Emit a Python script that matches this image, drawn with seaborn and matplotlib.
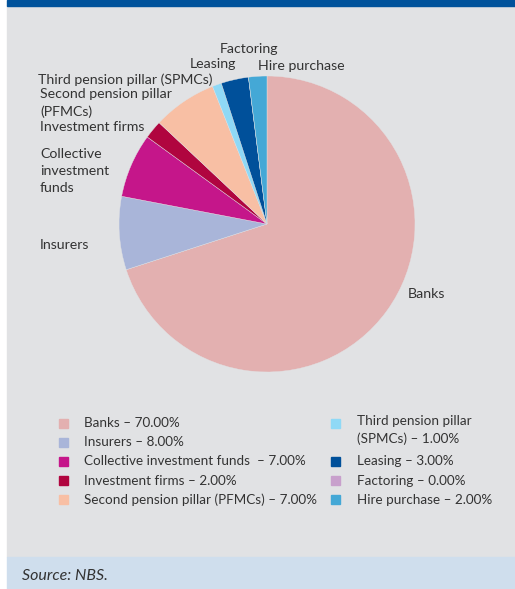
import matplotlib
matplotlib.use("Agg")
import matplotlib.pyplot as plt
from matplotlib.patches import Rectangle
import seaborn as sns

sns.set_theme(style="white")
plt.rcParams['font.family'] = ['Lato', 'DejaVu Sans']

# Data
sectors = ["Banks", "Insurers", "Collective investment funds", "Investment firms",
           "Second pension pillar (PFMCs)", "Third pension pillar (SPMCs)",
           "Leasing", "Factoring", "Hire purchase"]
shares = [70.0, 8.0, 7.0, 2.0, 7.0, 1.0, 3.0, 0.0, 2.0]
colors = ["#e3b0b0", "#a9b5d9", "#c5168a", "#b0053f", "#f8bfa4",
          "#8fd9f6", "#00509a", "#c8a0cc", "#44a8d6"]
legend_labels = ["Banks – 70.00%", "Insurers – 8.00%",
                 "Collective investment funds  – 7.00%", "Investment firms – 2.00%",
                 "Second pension pillar (PFMCs) – 7.00%",
                 "Third pension pillar\n(SPMCs) – 1.00%", "Leasing – 3.00%",
                 "Factoring – 0.00%", "Hire purchase – 2.00%"]

W, H = 515, 589
fig = plt.figure(figsize=(W / 100, H / 100), dpi=100)
fig.patch.set_facecolor("white")

def px(x, y):
    return x / W, 1 - y / H

# background panels
fig.add_artist(Rectangle(px(7, 557), (W - 7) / W, 552 / H, transform=fig.transFigure,
                         color="#e1e2e4", zorder=0))
fig.add_artist(Rectangle(px(7, 589), (W - 7) / W, 32 / H, transform=fig.transFigure,
                         color="#cfdeed", zorder=0))
fig.add_artist(Rectangle(px(7, 6), (W - 7) / W, 6 / H, transform=fig.transFigure,
                         color="#00529b", zorder=0))

# pie
cx, cy, r = 267, 224, 148
ax = fig.add_axes([(cx - r) / W, (H - cy - r) / H, 2 * r / W, 2 * r / H])
ax.pie(shares, colors=colors, startangle=90, counterclock=False, radius=1,
       wedgeprops=dict(linewidth=0.3, edgecolor="#e1e2e4"))
ax.set_xlim(-1, 1)
ax.set_ylim(-1, 1)
ax.set_axis_off()

tc = "#333333"
fs = 10.2
pie_labels = [("Banks", 408, 294), ("Insurers", 40, 245),
              ("Collective\ninvestment\nfunds", 40, 171),
              ("Investment firms", 40, 127),
              ("Second pension pillar\n(PFMCs)", 40, 103),
              ("Third pension pillar (SPMCs)", 38, 80),
              ("Leasing", 190, 64), ("Factoring", 220, 49),
              ("Hire purchase", 258, 66)]
for txt, x, y in pie_labels:
    fig.text(*px(x, y), txt, fontsize=fs, color=tc, va="center", ha="left",
             linespacing=1.45 if "PFMCs" in txt else 1.55)

# legend
lfs = 9.7
rows = [0, 1, 2, 3, 4, 0, 2, 3, 4]
for i, (lab, col) in enumerate(zip(legend_labels, colors)):
    column = 0 if i < 5 else 1
    mx = 59 if column == 0 else 331
    tx = 84 if column == 0 else 357
    y = 423 + rows[i] * 19.2
    fig.add_artist(Rectangle(px(mx, y + 4.5), 9 / W, 9 / H, transform=fig.transFigure,
                             color=col))
    if "\n" in lab:
        fig.text(*px(tx, y - 8), lab, fontsize=lfs, color=tc, va="top", ha="left",
                 linespacing=1.55)
    else:
        fig.text(*px(tx, y), lab, fontsize=lfs, color=tc, va="center", ha="left")

fig.text(*px(22, 576), "Source: NBS.", fontsize=11.5, style="italic", color=tc,
         va="center", ha="left")

fig.savefig("out.png", dpi=100)
